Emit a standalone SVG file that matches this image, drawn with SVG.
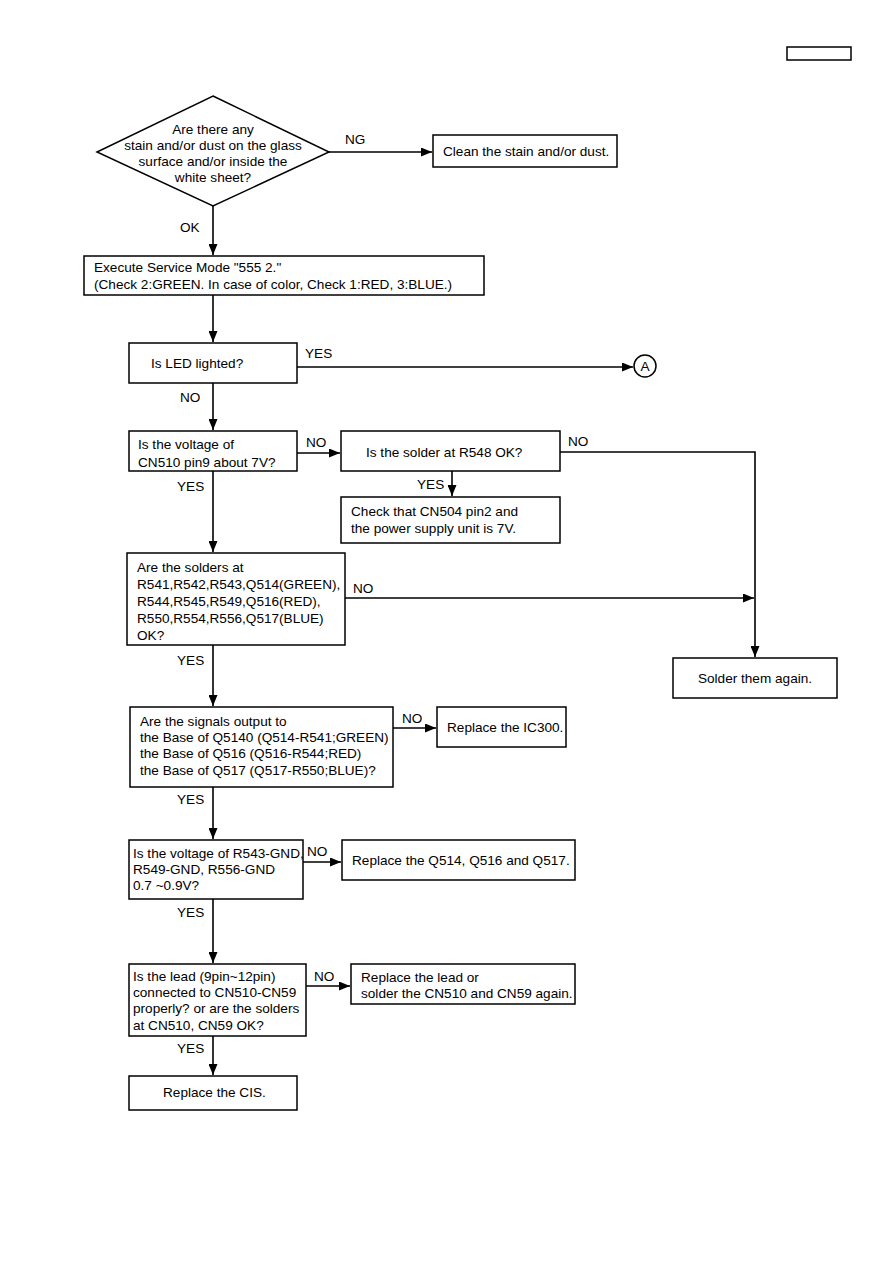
<svg xmlns="http://www.w3.org/2000/svg" width="893" height="1263" viewBox="0 0 893 1263">
<style>
.b{fill:#fff;stroke:#000;stroke-width:1.5}
.t{font-family:"Liberation Sans",Arial,Helvetica,sans-serif;font-size:13.6px;fill:#000}
.m{text-anchor:middle}
.c{fill:none;stroke:#000;stroke-width:1.6}
</style>
<defs>
<marker id="ah" viewBox="0 0 11 9" refX="11" refY="4.5" markerWidth="11" markerHeight="9" markerUnits="userSpaceOnUse" orient="auto">
<path d="M0,0 L11,4.5 L0,9 Z" fill="#000"/>
</marker>
</defs>
<rect width="893" height="1263" fill="#fff"/>
<g id="header"><rect class="b" x="787" y="47" width="64" height="13"/></g>

<g id="connectors">
<path class="c" d="M329,152 H432" marker-end="url(#ah)"/>
<path class="c" d="M213,206 V255" marker-end="url(#ah)"/>
<path class="c" d="M213,295 V342" marker-end="url(#ah)"/>
<path class="c" d="M297,367 H633" marker-end="url(#ah)"/>
<path class="c" d="M213,383 V430" marker-end="url(#ah)"/>
<path class="c" d="M297,453 H340" marker-end="url(#ah)"/>
<path class="c" d="M452,471 V496" marker-end="url(#ah)"/>
<path class="c" d="M560,452 H755 V657" marker-end="url(#ah)"/>
<path class="c" d="M213,471 V552" marker-end="url(#ah)"/>
<path class="c" d="M345,598 H754" marker-end="url(#ah)"/>
<path class="c" d="M213,645 V706" marker-end="url(#ah)"/>
<path class="c" d="M393,728 H436" marker-end="url(#ah)"/>
<path class="c" d="M213,787 V839" marker-end="url(#ah)"/>
<path class="c" d="M303,862 H341" marker-end="url(#ah)"/>
<path class="c" d="M213,899 V963" marker-end="url(#ah)"/>
<path class="c" d="M306,986 H350" marker-end="url(#ah)"/>
<path class="c" d="M213,1036 V1075" marker-end="url(#ah)"/>
<text class="t" x="345" y="144">NG</text>
<text class="t" x="180" y="232">OK</text>
<text class="t" x="305" y="358">YES</text>
<text class="t" x="180" y="402">NO</text>
<text class="t" x="306" y="447">NO</text>
<text class="t" x="417" y="489">YES</text>
<text class="t" x="568" y="446">NO</text>
<text class="t" x="177" y="491">YES</text>
<text class="t" x="353" y="593">NO</text>
<text class="t" x="177" y="665">YES</text>
<text class="t" x="402" y="723">NO</text>
<text class="t" x="177" y="804">YES</text>
<text class="t" x="307" y="856">NO</text>
<text class="t" x="177" y="917">YES</text>
<text class="t" x="314" y="981">NO</text>
<text class="t" x="177" y="1053">YES</text>
</g>

<g id="n_dust">
<polygon class="b" points="213,96 329,152 213,206 97,152"/>
<text class="t m" x="213" y="134">Are there any</text>
<text class="t m" x="213" y="150">stain and/or dust on the glass</text>
<text class="t m" x="213" y="166">surface and/or inside the</text>
<text class="t m" x="213" y="182">white sheet?</text>
</g>
<g id="n_clean">
<rect class="b" x="433" y="135" width="184" height="32"/>
<text class="t" x="443" y="156">Clean the stain and/or dust.</text>
</g>
<g id="n_service">
<rect class="b" x="84" y="256" width="400" height="39"/>
<text class="t" x="94" y="272">Execute Service Mode "555 2."</text>
<text class="t" x="94" y="289">(Check 2:GREEN. In case of color, Check 1:RED, 3:BLUE.)</text>
</g>
<g id="n_led">
<rect class="b" x="129" y="343" width="168" height="40"/>
<text class="t" x="151" y="368">Is LED lighted?</text>
</g>
<g id="n_a">
<circle class="b" cx="645" cy="366" r="11"/>
<text class="t m" x="645" y="371">A</text>
</g>
<g id="n_cn510">
<rect class="b" x="129" y="431" width="168" height="40"/>
<text class="t" x="138" y="449">Is the voltage of</text>
<text class="t" x="138" y="467">CN510 pin9 about 7V?</text>
</g>
<g id="n_r548">
<rect class="b" x="341" y="431" width="219" height="40"/>
<text class="t" x="366" y="457">Is the solder at R548 OK?</text>
</g>
<g id="n_check">
<rect class="b" x="341" y="497" width="219" height="46"/>
<text class="t" x="351" y="516">Check that CN504 pin2 and</text>
<text class="t" x="351" y="533">the power supply unit is 7V.</text>
</g>
<g id="n_solders">
<rect class="b" x="127" y="553" width="218" height="92"/>
<text class="t" x="137" y="572">Are the solders at</text>
<text class="t" x="137" y="589">R541,R542,R543,Q514(GREEN),</text>
<text class="t" x="137" y="606">R544,R545,R549,Q516(RED),</text>
<text class="t" x="137" y="623">R550,R554,R556,Q517(BLUE)</text>
<text class="t" x="137" y="640">OK?</text>
</g>
<g id="n_again">
<rect class="b" x="673" y="658" width="164" height="40"/>
<text class="t m" x="755" y="683">Solder them again.</text>
</g>
<g id="n_signals">
<rect class="b" x="130" y="707" width="263" height="80"/>
<text class="t" x="140" y="726">Are the signals output to</text>
<text class="t" x="140" y="742">the Base of Q5140 (Q514-R541;GREEN)</text>
<text class="t" x="140" y="758">the Base of Q516 (Q516-R544;RED)</text>
<text class="t" x="140" y="775">the Base of Q517 (Q517-R550;BLUE)?</text>
</g>
<g id="n_ic300">
<rect class="b" x="437" y="707" width="129" height="40"/>
<text class="t" x="447" y="732">Replace the IC300.</text>
</g>
<g id="n_voltage">
<rect class="b" x="129" y="840" width="174" height="59"/>
<text class="t" x="133" y="858">Is the voltage of R543-GND,</text>
<text class="t" x="133" y="874">R549-GND, R556-GND</text>
<text class="t" x="133" y="890">0.7 ~0.9V?</text>
</g>
<g id="n_q514">
<rect class="b" x="342" y="840" width="233" height="40"/>
<text class="t" x="352" y="865">Replace the Q514, Q516 and Q517.</text>
</g>
<g id="n_lead">
<rect class="b" x="129" y="964" width="177" height="72"/>
<text class="t" x="133" y="981">Is the lead (9pin~12pin)</text>
<text class="t" x="133" y="997">connected to CN510-CN59</text>
<text class="t" x="133" y="1013">properly? or are the solders</text>
<text class="t" x="133" y="1030">at CN510, CN59 OK?</text>
</g>
<g id="n_replead">
<rect class="b" x="351" y="964" width="224" height="40"/>
<text class="t" x="361" y="982">Replace the lead or</text>
<text class="t" x="361" y="998">solder the CN510 and CN59 again.</text>
</g>
<g id="n_cis">
<rect class="b" x="129" y="1076" width="168" height="34"/>
<text class="t" x="163" y="1097">Replace the CIS.</text>
</g>
</svg>
